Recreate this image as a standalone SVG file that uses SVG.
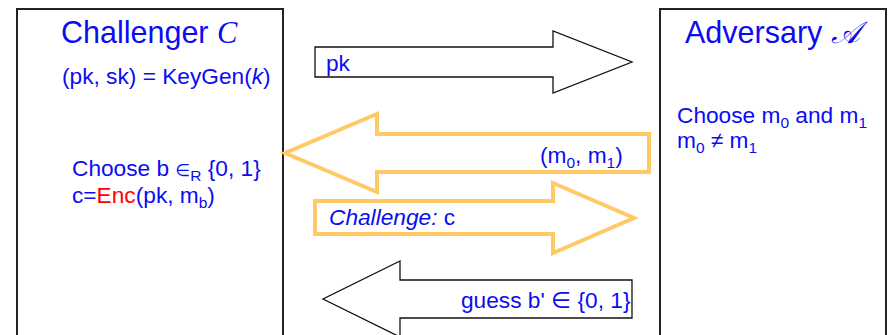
<svg xmlns="http://www.w3.org/2000/svg" width="888" height="335" viewBox="0 0 888 335">
<style>
.box{fill:#fff;stroke:#222;stroke-width:2}
.t{font-family:"Liberation Sans",Arial,sans-serif;fill:#0c0cf2;font-size:22.7px}
.title{font-size:30.5px}
.sub{font-size:15.5px}
.blk{fill:#fff;stroke:#111;stroke-width:1.3}
.yel{fill:#fff;stroke:#ffc966;stroke-width:4}
</style>
<rect width="888" height="335" fill="#fff"/>
<g id="challenger">
<rect class="box" x="17" y="9" width="266" height="340"/>
<text class="t title" x="61" y="43">Challenger <tspan font-family="'Liberation Serif',serif" font-style="italic">C</tspan></text>
<text class="t" x="62" y="84">(pk, sk) = KeyGen(<tspan font-style="italic">k</tspan>)</text>
<text class="t" x="72" y="176">Choose b <tspan font-family="'DejaVu Sans',sans-serif" font-size="17">∈</tspan><tspan class="sub" dy="5">R</tspan><tspan dy="-5"> {0, 1}</tspan></text>
<text class="t" x="72" y="203">c=<tspan fill="#ff0000">Enc</tspan>(pk, m<tspan class="sub" dy="5">b</tspan><tspan dy="-5">)</tspan></text>
</g>
<g id="adversary">
<rect class="box" x="660" y="9" width="226" height="340"/>
<text class="t title" x="685" y="43">Adversary <tspan font-family="'DejaVu Serif','DejaVu Sans',serif" font-style="italic">𝒜</tspan></text>
<text class="t" x="677" y="123">Choose m<tspan class="sub" dy="5">0</tspan><tspan dy="-5"> and m</tspan><tspan class="sub" dy="5">1</tspan></text>
<text class="t" x="677" y="148">m<tspan class="sub" dy="5">0</tspan><tspan dy="-5"> ≠ m</tspan><tspan class="sub" dy="5">1</tspan></text>
</g>
<g id="connectors">
<g id="msg-pk">
<polygon class="blk" points="315,47 553,47 553,31 632,62 553,93 553,77 315,77"/>
<text class="t" x="326" y="71">pk</text>
</g>
<g id="msg-m">
<polygon class="yel" points="649,134 377,134 377,114 285,153 377,192 377,172 649,172"/>
<text class="t" x="540" y="163">(m<tspan class="sub" dy="5">0</tspan><tspan dy="-5">, m</tspan><tspan class="sub" dy="5">1</tspan><tspan dy="-5">)</tspan></text>
</g>
<g id="msg-challenge">
<polygon class="yel" points="315,201 553,201 553,183 634,218 553,253 553,234 315,234"/>
<text class="t" x="329" y="225"><tspan font-style="italic">Challenge:</tspan> c</text>
</g>
<g id="msg-guess">
<polygon class="blk" points="632,280 400,280 400,261 323,299 400,337 400,318 632,318"/>
<text class="t" x="461" y="308">guess b' <tspan font-family="'DejaVu Sans',sans-serif" font-size="23">∈</tspan> {0, 1}</text>
</g>
</g>
</svg>
